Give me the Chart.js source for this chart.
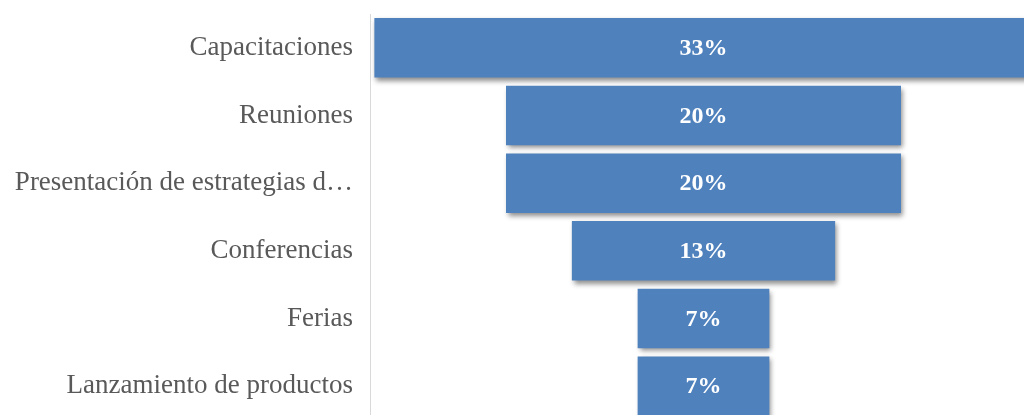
<!DOCTYPE html>
<html lang="es">
<head>
<meta charset="utf-8">
<title>Embudo de actividades</title>
<script src="https://cdn.jsdelivr.net/npm/chart.js@4/dist/chart.umd.min.js"></script>
<style>
  html, body { margin: 0; padding: 0; background: #ffffff; overflow: hidden; }
  #wrap { width: 1024px; height: 415px; overflow: hidden; }
  canvas { display: block; }
</style>
</head>
<body>
<div id="wrap"><canvas id="funnel" width="1024" height="420"></canvas></div>
<script>
// Activity categories, top to bottom of the funnel
const categories = [
  'Capacitaciones',
  'Reuniones',
  'Presentación de estrategias d…',
  'Conferencias',
  'Ferias',
  'Lanzamiento de productos'
];

// Share of each activity, in percent
const shares = [33.33, 20, 20, 13.33, 6.67, 6.67];

// Text written inside each bar
const shareLabels = shares.map(v => Math.round(v) + '%');

// Each bar is centred on zero so the stack reads as a funnel
const funnelRanges = shares.map(v => [-v / 2, v / 2]);

const BAR_BLUE = '#4F81BD';
const SERIF = '"Liberation Serif", "Times New Roman", serif';

// Soft drop shadow under the bars
const barShadow = {
  id: 'barShadow',
  beforeDatasetDraw(chart) {
    const ctx = chart.ctx;
    ctx.save();
    ctx.shadowColor = 'rgba(0, 0, 0, 0.45)';
    ctx.shadowBlur = 5;
    ctx.shadowOffsetX = 2;
    ctx.shadowOffsetY = 3;
  },
  afterDatasetDraw(chart) {
    chart.ctx.restore();
  }
};

// Percentage text in the middle of each bar
const barValues = {
  id: 'barValues',
  afterDatasetsDraw(chart) {
    const ctx = chart.ctx;
    const meta = chart.getDatasetMeta(0);
    const xCenter = chart.scales.x.getPixelForValue(0);
    ctx.save();
    ctx.fillStyle = '#ffffff';
    ctx.font = 'bold 24px ' + SERIF;
    ctx.textAlign = 'center';
    ctx.textBaseline = 'middle';
    meta.data.forEach((bar, i) => {
      ctx.fillText(shareLabels[i], xCenter, bar.y + 1);
    });
    ctx.restore();
  }
};

new Chart(document.getElementById('funnel'), {
  type: 'bar',
  data: {
    labels: categories,
    datasets: [{
      data: funnelRanges,
      backgroundColor: BAR_BLUE,
      borderWidth: 0,
      borderSkipped: false,
      barPercentage: 1,
      categoryPercentage: 0.88
    }]
  },
  options: {
    indexAxis: 'y',
    responsive: false,
    animation: false,
    layout: { padding: { top: 14, right: 0, bottom: 0, left: 0 } },
    plugins: {
      legend: { display: false },
      tooltip: { enabled: false }
    },
    scales: {
      x: {
        display: false,
        min: -16.886,
        max: 16.228
      },
      y: {
        grid: { display: false, drawTicks: false },
        border: { display: true, color: '#d9d9d9', width: 1 },
        ticks: {
          color: '#595959',
          padding: 17,
          font: { family: SERIF, size: 27 }
        },
        afterFit(scale) {
          scale.width = 370;
          // the outer labels sit inside their category bands, no extra room needed
          scale.paddingTop = 0;
          scale.paddingBottom = 0;
        }
      }
    }
  },
  plugins: [barShadow, barValues]
});
</script>
</body>
</html>
